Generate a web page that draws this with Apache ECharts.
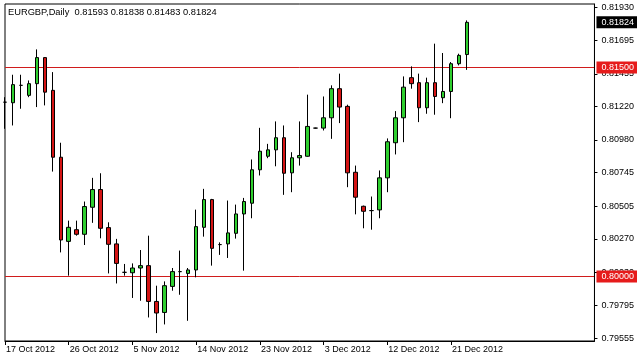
<!DOCTYPE html>
<html>
<head>
<meta charset="utf-8">
<script src="https://cdn.jsdelivr.net/npm/echarts@6/dist/echarts.min.js"></script>
<style>html,body{margin:0;padding:0;background:#fff}#c{width:640px;height:361px}</style>
</head>
<body>
<div id="c"></div>
<script>
var symbolName = 'EURGBP,Daily';
var dates = ['17 Oct 2012','18 Oct 2012','19 Oct 2012','21 Oct 2012','22 Oct 2012','23 Oct 2012','24 Oct 2012','25 Oct 2012',
'26 Oct 2012','28 Oct 2012','29 Oct 2012','30 Oct 2012','31 Oct 2012','1 Nov 2012','2 Nov 2012','4 Nov 2012',
'5 Nov 2012','6 Nov 2012','7 Nov 2012','8 Nov 2012','9 Nov 2012','11 Nov 2012','12 Nov 2012','13 Nov 2012',
'14 Nov 2012','15 Nov 2012','16 Nov 2012','18 Nov 2012','19 Nov 2012','20 Nov 2012','21 Nov 2012','22 Nov 2012',
'23 Nov 2012','25 Nov 2012','26 Nov 2012','27 Nov 2012','28 Nov 2012','29 Nov 2012','30 Nov 2012','2 Dec 2012',
'3 Dec 2012','4 Dec 2012','5 Dec 2012','6 Dec 2012','7 Dec 2012','9 Dec 2012','10 Dec 2012','11 Dec 2012',
'12 Dec 2012','13 Dec 2012','14 Dec 2012','16 Dec 2012','17 Dec 2012','18 Dec 2012','19 Dec 2012','20 Dec 2012',
'21 Dec 2012','23 Dec 2012','24 Dec 2012'];
var opens = [0.81251,0.81247,0.81372,0.81300,0.81384,0.81571,0.81336,0.80856,0.80252,0.80336,0.80303,0.80497,0.80624,0.80351,0.80234,0.80030,
0.80027,0.80061,0.80078,0.79821,0.79742,0.79929,0.80035,0.80022,0.80047,0.80353,0.80552,0.80229,0.80234,0.80310,0.80449,0.80526,
0.80766,0.80863,0.80909,0.80996,0.80744,0.80852,0.80863,0.81065,0.81065,0.81139,0.81348,0.81221,0.80748,0.80504,0.80473,0.80478,
0.80708,0.80960,0.81139,0.81427,0.81391,0.81211,0.81391,0.81283,0.81328,0.81527,0.81593];
var highs = [0.81287,0.81448,0.81448,0.81407,0.81630,0.81574,0.81467,0.80960,0.80401,0.80401,0.80538,0.80708,0.80741,0.80389,0.80270,0.80090,
0.80094,0.80190,0.80293,0.79934,0.79965,0.80061,0.80186,0.80061,0.80480,0.80629,0.80557,0.80245,0.80545,0.80516,0.80564,0.80840,
0.81067,0.80952,0.81113,0.81084,0.80892,0.81113,0.81305,0.81068,0.81292,0.81372,0.81456,0.81233,0.80796,0.80509,0.80574,0.80761,
0.80991,0.81187,0.81436,0.81508,0.81456,0.81427,0.81671,0.81604,0.81539,0.81599,0.81838];
var lows = [0.81060,0.81084,0.81204,0.81287,0.81216,0.81228,0.80753,0.80173,0.80006,0.80293,0.80226,0.80385,0.80274,0.80022,0.79950,0.80006,
0.79846,0.79826,0.79706,0.79594,0.79656,0.79898,0.79869,0.79682,0.79994,0.80286,0.80078,0.80155,0.80133,0.80272,0.80042,0.80418,
0.80725,0.80849,0.80791,0.80586,0.80605,0.80796,0.80860,0.81062,0.81048,0.80988,0.81101,0.80641,0.80446,0.80346,0.80336,0.80418,
0.80605,0.80876,0.80964,0.81348,0.81108,0.81168,0.81161,0.81244,0.81136,0.81515,0.81483];
var closes = [0.81251,0.81377,0.81372,0.81384,0.81571,0.81323,0.80856,0.80262,0.80353,0.80303,0.80502,0.80624,0.80346,0.80231,0.80094,0.80030,
0.80061,0.80078,0.79821,0.79738,0.79934,0.80035,0.80035,0.80047,0.80358,0.80552,0.80202,0.80229,0.80313,0.80449,0.80538,0.80766,
0.80899,0.80909,0.80996,0.80741,0.80852,0.80868,0.81077,0.81065,0.81139,0.81348,0.81216,0.80744,0.80569,0.80468,0.80473,0.80708,
0.80967,0.81139,0.81359,0.81384,0.81211,0.81391,0.81292,0.81328,0.81527,0.81587,0.81824];
var yTicks = [0.79555,0.79795,0.80030,0.80270,0.80505,0.80745,0.80980,0.81220,0.81455,0.81695,0.81930];
var levels = [0.81500,0.80000];
var emptySlots = 16;
var labelEvery = 8;

var cats = dates.concat(new Array(emptySlots).fill(''));
var n = dates.length;
var candles = dates.map(function(d,i){ return [opens[i], closes[i], lows[i], highs[i]]; });
var last = n - 1;
var lastPrice = closes[last];
var headline = symbolName + '  ' + [opens[last], highs[last], lows[last], closes[last]].map(function(v){return v.toFixed(5);}).join(' ');
var FONT = 'Liberation Sans';
var LEVEL_RED = '#d01c1c';
var Y_MIN = 0.795371, Y_MAX = 0.819557;
var labelValues = yTicks.concat(levels, [lastPrice]);
function near(a, b){ return Math.abs(a - b) < 1e-9; }
function showDate(i, v){ return i % labelEvery === 0 && v !== ''; }

var chart = echarts.init(document.getElementById('c'), null, {renderer: 'canvas'});
chart.setOption({
  animation: false,
  backgroundColor: '#ffffff',
  title: {text: headline, left: 8, top: 8, padding: 0,
    textStyle: {fontFamily: FONT, fontSize: 9.3, fontWeight: 'normal', color: '#000'}},
  grid: {left: 5, right: 43, top: 4, bottom: 20, show: true, borderColor: '#000', borderWidth: 1, backgroundColor: 'transparent'},
  xAxis: {
    type: 'category', data: cats, boundaryGap: false,
    axisLine: {show: true, lineStyle: {color: '#000', width: 1}},
    axisTick: {show: true, interval: showDate, length: 4, inside: false, lineStyle: {color: '#000'}},
    axisLabel: {interval: showDate, align: 'left', margin: 4, padding: [0,0,0,1], color: '#000', fontFamily: FONT, fontSize: 9},
    splitLine: {show: false}
  },
  yAxis: [{
    type: 'value', position: 'right', scale: true, min: Y_MIN, max: Y_MAX,
    axisLine: {show: true, lineStyle: {color: '#000', width: 1}},
    axisTick: {show: true, length: 3, customValues: yTicks, lineStyle: {color: '#000'}},
    axisLabel: {customValues: labelValues, margin: 2, color: '#000', fontFamily: FONT, fontSize: 9,
      formatter: function(v){
        var s = Number(v).toFixed(5);
        if (near(v, lastPrice)) return '{b|' + s + '}';
        for (var i = 0; i < levels.length; i++) if (near(v, levels[i])) return '{r|' + s + '}';
        return '{n|' + s + '}';
      },
      rich: {
        n: {padding: [0,0,0,5], color: '#000', fontFamily: FONT, fontSize: 9},
        r: {padding: [2,3,1,5], backgroundColor: '#e61b1b', color: '#fff', fontFamily: FONT, fontSize: 9},
        b: {padding: [2,3,1,5], backgroundColor: '#000', color: '#fff', fontFamily: FONT, fontSize: 9}
      }},
    splitLine: {show: false}
  }, {
    type: 'value', position: 'right', scale: true, min: Y_MIN, max: Y_MAX,
    axisLine: {show: false},
    axisTick: {show: false, customValues: levels},
    axisLabel: {show: false, customValues: levels},
    splitLine: {show: true, lineStyle: {color: LEVEL_RED, width: 1, type: 'solid'}}
  }],
  series: [{
    type: 'candlestick',
    name: 'EURGBP',
    yAxisIndex: 0,
    data: candles,
    barWidth: 4,
    itemStyle: {color: '#2fcf2f', color0: '#d41414', borderColor: '#000', borderColor0: '#000', borderColorDoji: '#000', borderWidth: 1}
  }]
});
</script>
</body>
</html>
